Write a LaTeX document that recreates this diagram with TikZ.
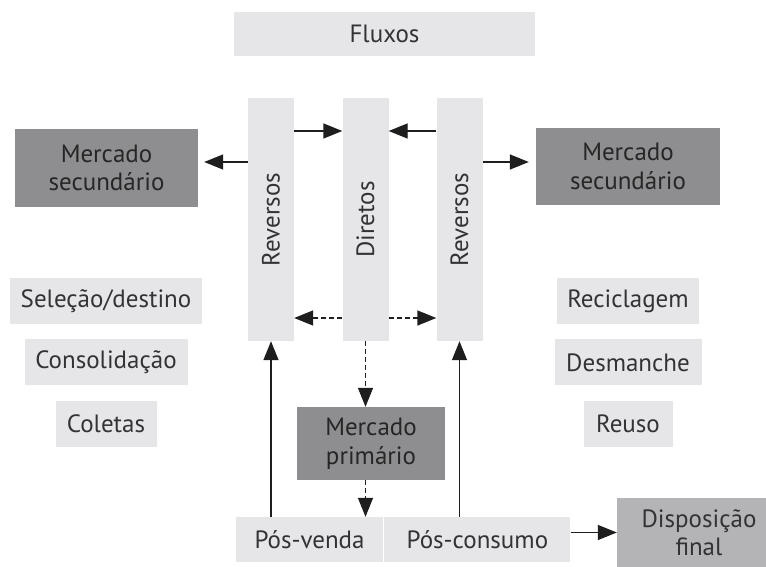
\documentclass[tikz,border=0pt]{standalone}
\usepackage{fontspec}
\setmainfont{PT Sans}
\usepackage{graphicx}
\usepackage{tikz}
\usetikzlibrary{positioning,arrows.meta}
\usepackage{xcolor}
\definecolor{pale}{HTML}{E6E6E8}
\definecolor{market}{HTML}{8E8E90}
\definecolor{final}{HTML}{B4B4B7}
\definecolor{ink}{HTML}{333335}
\definecolor{wire}{HTML}{1E1E1E}

\begin{document}
\begin{tikzpicture}[
    x=1pt, y=-1pt,
    node distance=15pt and 1pt,
    box/.style={fill=pale, text=ink, inner sep=0pt, minimum height=46pt, font=\fontsize{25}{28.5}\selectfont, align=center},
    bar/.style={box, minimum width=46pt, minimum height=243pt},
    mkt/.style={box, fill=market, text=black!85},
    flow/.style={-{Triangle[length=19pt,width=15pt]}, line width=1.4pt, wire},
    dflow/.style={flow, dash pattern=on 5pt off 3pt}
]
\clip (0,0) rectangle (766,567);
\fill[white] (0,0) rectangle (766,567);

\node[box, minimum width=301pt, minimum height=44pt] (fluxos) at (384.5,34) {Fluxos};

% colunas de fluxos
\node[bar] (revl) at (271,219.5)   {\rotatebox{90}{Reversos}};
\node[bar] (dir)  at (365.5,219.5) {\rotatebox{90}{Diretos}};
\node[bar] (revr) at (459.5,219.5) {\rotatebox{90}{Reversos}};

\node[mkt, minimum width=183pt, minimum height=78pt] (msl) at (106.5,168) {Mercado\\secundário};
\node[mkt, minimum width=184pt, minimum height=76pt] (msr) at (628,166.5) {Mercado\\secundário};

% atividades
\node[box, minimum width=192pt] (sel) at (106,301) {Seleção/destino};
\node[box, minimum width=163pt, below=of sel] (cons) {Consolidação};
\node[box, minimum width=101pt, below=of cons] (col) {Coletas};

\node[box, minimum width=142pt] (recic) at (628,301) {Reciclagem};
\node[box, minimum width=147pt, below=of recic] (desm) {Desmanche};
\node[box, minimum width=89pt, below=of desm] (reuso) {Reuso};

\node[mkt, minimum width=148pt, minimum height=73pt] (mprim) at (371,443.5) {Mercado\\primário};

\node[box, minimum width=147pt, minimum height=45pt] (pvenda) at (309.5,539.5) {Pós-venda};
\node[box, minimum width=186pt, minimum height=45pt, right=of pvenda] (pcons) {Pós-consumo};
\node[box, fill=final, minimum width=164pt, minimum height=69pt] (disp) at (699,532.5) {Disposição\\final};

\draw[flow] ([yshift=88.5pt]revl.east) -- ([yshift=88.5pt]dir.west);
\draw[flow] ([yshift=88.5pt]revr.west) -- ([yshift=88.5pt]dir.east);
\draw[flow, shorten >=6pt] ([yshift=57.5pt]revl.west) -- ([yshift=6pt]msl.east);
\draw[flow, shorten >=7pt] ([yshift=57.5pt]revr.east) -- ([yshift=4.5pt]msr.west);

\draw[dflow] ([yshift=-98.5pt]dir.west) -- ([yshift=-98.5pt]revl.east);
\draw[dflow] ([yshift=-98.5pt]dir.east) -- ([yshift=-98.5pt]revr.west);
\draw[dflow] (dir.south) -- (dir.south |- mprim.north);
\draw[dflow] (dir.south |- mprim.south) -- (dir.south |- pvenda.north);

\draw[flow] (revl.south |- pvenda.north) -- (revl.south);
\draw[flow] (revr.south |- pcons.north) -- (revr.south);
\draw[flow] (pcons.east |- disp.west) -- (disp.west);

\end{tikzpicture}
\end{document}
